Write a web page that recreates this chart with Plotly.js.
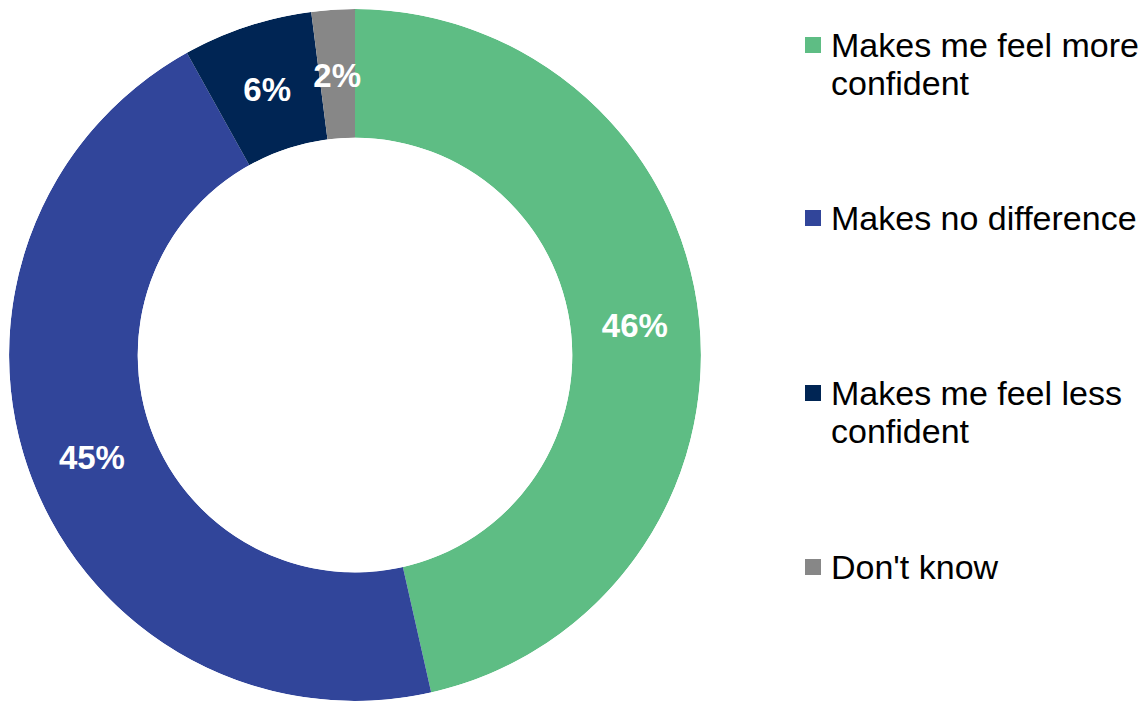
<!DOCTYPE html>
<html>
<head>
<meta charset="utf-8">
<script src="https://cdn.plot.ly/plotly-3.0.1.min.js"></script>
<style>html,body{margin:0;padding:0;background:#fff;}#chart{width:1142px;height:701px;}</style>
</head>
<body>
<div id="chart"></div>
<script>
const categories = ["Makes me feel more confident", "Makes no difference", "Makes me feel less confident", "Don't know"];
const legendLines = [["Makes me feel more", "confident"], ["Makes no difference"], ["Makes me feel less", "confident"], ["Don't know"]];
const values = [46, 45, 6, 2];
const colors = ["#5EBD84", "#31459A", "#002554", "#878787"];

const W = 1142, H = 701;
const FONT = "Liberation Sans, Arial, sans-serif";
const HOLE = 0.628;

// angular positions derived from the values (clockwise from 12 o'clock)
const total = values.reduce((a, b) => a + b, 0);
const widths = values.map(v => v / total * 360);
const mids = [];
let acc = 0;
widths.forEach(w => { mids.push(acc + w / 2); acc += w; });

// ring domain and a slightly lowered domain for the labels
const domX = [9 / W, 701 / W];
const domY = [0, 0.987];
const drop = 5; // px the label layer is lowered
const domY2 = [0, domY[1] - 2 * drop / H];
const R1 = (domY[1] - domY[0]) * H / 2;
const R2 = (domY2[1] - domY2[0]) * H / 2;
const labelR = (1 + HOLE) / 2 * R1 / R2;

// legend layout (pixel positions of each item's first-line center)
const legendTop = [45, 218, 393, 567];
const lineGap = 38;

const annotations = [];
const shapes = [];
legendLines.forEach((lines, i) => {
  lines.forEach((ln, j) => {
    annotations.push({
      xref: 'paper', yref: 'paper',
      x: 829 / W, y: 1 - (legendTop[i] + j * lineGap) / H,
      xanchor: 'left', yanchor: 'middle',
      text: ln, showarrow: false,
      font: {family: FONT, size: 34, color: '#000000'}
    });
  });
  const cy = legendTop[i];
  shapes.push({
    type: 'rect', xref: 'paper', yref: 'paper',
    x0: 805 / W, x1: 821 / W,
    y0: 1 - (cy + 8) / H, y1: 1 - (cy - 8) / H,
    fillcolor: colors[i], line: {width: 0}
  });
});

const ring = {
  type: 'barpolar',
  subplot: 'polar',
  r: values.map(() => 1),
  theta: mids,
  width: widths,
  marker: {color: colors, line: {width: 0}},
  text: categories,
  hoverinfo: 'text',
  showlegend: false
};

const labels = {
  type: 'scatterpolar',
  subplot: 'polar2',
  mode: 'text',
  r: values.map(() => labelR),
  theta: mids,
  text: values.map(v => v + '%'),
  textposition: 'middle center',
  textfont: {family: FONT, size: 33, color: '#ffffff', weight: 'bold'},
  hoverinfo: 'skip',
  showlegend: false
};

const hiddenRadial = {range: [0, 1], visible: false, showgrid: false, showline: false, showticklabels: false, ticks: ''};
const hiddenAngular = {rotation: 90, direction: 'clockwise', visible: false, showgrid: false, showline: false, showticklabels: false, ticks: ''};

const layout = {
  width: W, height: H,
  margin: {l: 0, r: 0, t: 0, b: 0},
  paper_bgcolor: '#ffffff',
  showlegend: false,
  polar: {
    domain: {x: domX, y: domY},
    hole: HOLE,
    bgcolor: 'rgba(0,0,0,0)',
    bargap: 0,
    radialaxis: hiddenRadial,
    angularaxis: hiddenAngular
  },
  polar2: {
    domain: {x: domX, y: domY2},
    hole: 0,
    bgcolor: 'rgba(0,0,0,0)',
    radialaxis: hiddenRadial,
    angularaxis: hiddenAngular
  },
  annotations: annotations,
  shapes: shapes,
  font: {family: FONT}
};

Plotly.newPlot('chart', [ring, labels], layout, {displayModeBar: false, staticPlot: true});
</script>
</body>
</html>
